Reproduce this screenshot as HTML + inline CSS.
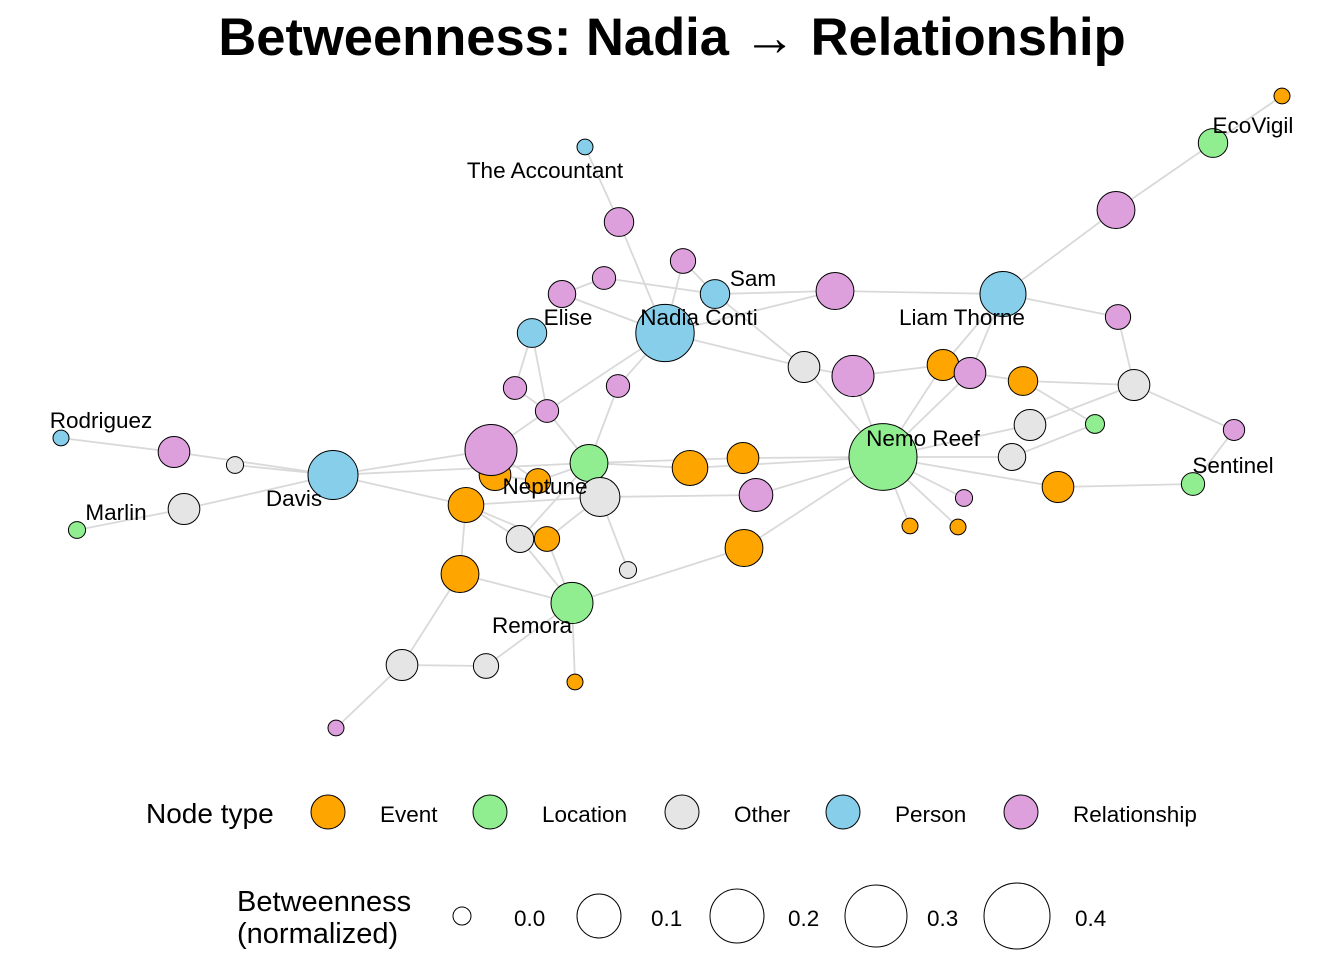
<!DOCTYPE html>
<html><head><meta charset="utf-8"><style>
html,body{margin:0;padding:0;background:#fff;}
svg{display:block;font-family:"Liberation Sans",Arial,sans-serif;}
</style></head><body>
<svg id="chart" width="1344" height="960" viewBox="0 0 1344 960">
<text x="672" y="55" text-anchor="middle" font-size="52.5" font-weight="bold">Betweenness: Nadia → Relationship</text>
<g id="edges"></g>
<g id="nodes"></g>
<g id="labels"></g>
<g id="legend">
<text x="146" y="823" font-size="28">Node type</text>
<text x="237" y="911" font-size="29">Betweenness</text>
<text x="237" y="943" font-size="29">(normalized)</text>
</g>
</svg>
<script>
const colors = {Event:"#FFA500", Location:"#90EE90", Other:"#E5E5E5", Person:"#87CEEB", Relationship:"#DDA0DD"};
const nodeTypes = ["Event","Location","Other","Person","Relationship"];
const sizeBreaks = [0.0,0.1,0.2,0.3,0.4];
const sizeLabels = ["0.0","0.1","0.2","0.3","0.4"];
// [id, type, betweenness, layout-x, layout-y, label]
const nodes = [
[1,"Event",0.0,1282,96,""],[2,"Location",0.048,1213,143,"EcoVigil"],[3,"Relationship",0.078,1116,210,""],
[4,"Person",0.12,1003,294,"Liam Thorne"],[5,"Relationship",0.033,1118,317,""],[6,"Other",0.056,1134,385,""],
[7,"Person",0.048,715,294,"Sam"],[8,"Relationship",0.078,835,291,""],[9,"Person",0.255,665,333,"Nadia Conti"],
[10,"Other",0.056,804,367,""],[11,"Relationship",0.093,853,376,""],[12,"Event",0.056,943,365,""],
[13,"Relationship",0.056,970,373,""],[14,"Event",0.048,1023,381,""],[15,"Other",0.056,1030,425,""],
[16,"Location",0.011,1095,424,""],[17,"Relationship",0.019,1234,430,""],[18,"Other",0.041,1012,457,""],
[19,"Location",0.45,883,457,"Nemo Reef"],[20,"Event",0.056,1058,487,""],[21,"Location",0.026,1193,484,"Sentinel"],
[22,"Relationship",0.004,964,498,""],[23,"Event",0.0,910,526,""],[24,"Event",0.0,958,527,""],
[25,"Person",0.0,585,147,"The Accountant"],[26,"Relationship",0.048,619,222,""],[27,"Relationship",0.033,683,261,""],
[28,"Relationship",0.026,604,278,""],[29,"Relationship",0.041,562,294,""],[30,"Person",0.048,532,333,"Elise"],
[31,"Relationship",0.026,515,388,""],[32,"Relationship",0.026,547,411,""],[33,"Relationship",0.026,618,386,""],
[35,"Event",0.056,495,475,""],[34,"Relationship",0.18,491,450,""],[36,"Event",0.033,538,481,"Neptune"],
[37,"Location",0.078,589,463,""],[38,"Other",0.085,600,497,""],[39,"Event",0.07,466,505,""],
[40,"Other",0.041,520,539,""],[41,"Event",0.033,547,539,""],[42,"Event",0.07,690,468,""],
[43,"Event",0.056,743,458,""],[44,"Relationship",0.063,756,495,""],[45,"Event",0.078,744,548,""],
[46,"Other",0.004,628,570,""],[47,"Event",0.078,460,574,""],[48,"Location",0.093,572,603,"Remora"],
[49,"Other",0.056,402,665,""],[50,"Other",0.033,486,666,""],[51,"Event",0.0,575,682,""],
[52,"Relationship",0.0,336,728,""],[53,"Person",0.16,333,475,"Davis"],[54,"Other",0.004,235,465,""],
[55,"Relationship",0.056,174,452,""],[56,"Person",0.0,61,438,"Rodriguez"],[57,"Other",0.056,184,509,""],
[58,"Location",0.004,77,530,"Marlin"]
];
const edges = [[1,2],[2,3],[3,4],[4,8],[4,5],[5,6],[8,7],[8,9],[7,28],[27,7],[27,9],[25,26],[26,9],[29,28],[29,9],
[30,32],[30,31],[31,32],[32,9],[32,37],[34,32],[33,9],[33,37],[9,10],[7,10],[10,11],[10,19],[11,19],[11,12],
[12,4],[13,4],[12,19],[13,19],[13,14],[14,6],[14,16],[6,15],[15,19],[16,18],[18,19],[6,17],[17,21],[19,20],[20,21],
[19,22],[19,23],[19,24],[19,43],[19,42],[19,44],[19,45],[37,43],[37,42],[38,44],[53,34],[53,37],[53,39],[53,54],
[53,55],[53,57],[56,55],[58,57],[39,38],[39,40],[39,47],[40,37],[40,48],[41,48],[41,38],[47,48],[47,49],[38,46],
[48,45],[48,51],[48,50],[49,50],[49,52],[34,36],[35,36],[36,37],[39,41]];
const labelOffsets = {"Rodriguez":[40,-18],"Marlin":[39,-18],"Davis":[-39,23],"Neptune":[7,5],"Remora":[-40,22],
"Elise":[36,-16],"Nadia Conti":[34,-16],"Sam":[38,-16],"The Accountant":[-40,23],"Liam Thorne":[-41,23],
"EcoVigil":[40,-18],"Haacklee Harbor":[59,-21],"Nemo Reef":[40,-19],"Sentinel":[40,-19]};
function rOf(v){const p=[[0,8],[0.1,22],[0.2,27],[0.3,31],[0.4,33],[0.5,35]];
 for(let i=1;i<p.length;i++){if(v<=p[i][0]){const a=p[i-1],b=p[i];return a[1]+(v-a[0])/(b[0]-a[0])*(b[1]-a[1]);}}return 35;}
const NS="http://www.w3.org/2000/svg";
const byId={};nodes.forEach(n=>byId[n[0]]=n);
const eg=document.getElementById("edges"),ng=document.getElementById("nodes"),lg=document.getElementById("labels"),leg=document.getElementById("legend");
edges.forEach(e=>{const a=byId[e[0]],b=byId[e[1]];const l=document.createElementNS(NS,"line");
 l.setAttribute("x1",a[3]);l.setAttribute("y1",a[4]);l.setAttribute("x2",b[3]);l.setAttribute("y2",b[4]);
 l.setAttribute("stroke","#D9D9D9");l.setAttribute("stroke-width","1.8");
 
 
 eg.appendChild(l);});
nodes.forEach(n=>{const c=document.createElementNS(NS,"ellipse");const r=rOf(n[2]);
 c.setAttribute("cx",n[3]);c.setAttribute("cy",n[4]);c.setAttribute("rx",r);c.setAttribute("ry",r*0.98);
 c.setAttribute("fill",colors[n[1]]);c.setAttribute("stroke","#000");c.setAttribute("stroke-width","1");
 
 
 ng.appendChild(c);
 if(n[5]){const o=labelOffsets[n[5]]||[0,0];const t=document.createElementNS(NS,"text");
  t.setAttribute("x",n[3]+o[0]);t.setAttribute("y",n[4]+o[1]+8);t.setAttribute("text-anchor","middle");t.setAttribute("font-size","22.5");
  t.textContent=n[5];
  
  
  lg.appendChild(t);}});
const typeX=[328,490,682,843,1021];
nodeTypes.forEach((tp,i)=>{const cx=typeX[i];const c=document.createElementNS(NS,"circle");
 c.setAttribute("cx",cx);c.setAttribute("cy",812);c.setAttribute("r",17);c.setAttribute("fill",colors[tp]);c.setAttribute("stroke","#000");
 
 
 leg.appendChild(c);
 const t=document.createElementNS(NS,"text");t.setAttribute("x",cx+52);t.setAttribute("y",822);t.setAttribute("font-size","22.5");t.textContent=tp;
 
 
 leg.appendChild(t);});
const sizeX=[462,599,737,876,1017], sizeLX=[514,651,788,927,1075];
sizeBreaks.forEach((v,i)=>{const r=(v===0?9:rOf(v));
 const c=document.createElementNS(NS,"circle");c.setAttribute("cx",sizeX[i]);c.setAttribute("cy",916);c.setAttribute("r",r);
 c.setAttribute("fill","#fff");c.setAttribute("stroke","#000");
 
 
 leg.appendChild(c);
 const t=document.createElementNS(NS,"text");t.setAttribute("x",sizeLX[i]);t.setAttribute("y",926);t.setAttribute("font-size","22.5");t.textContent=sizeLabels[i];
 
 
 leg.appendChild(t);});
</script>
</body></html>
